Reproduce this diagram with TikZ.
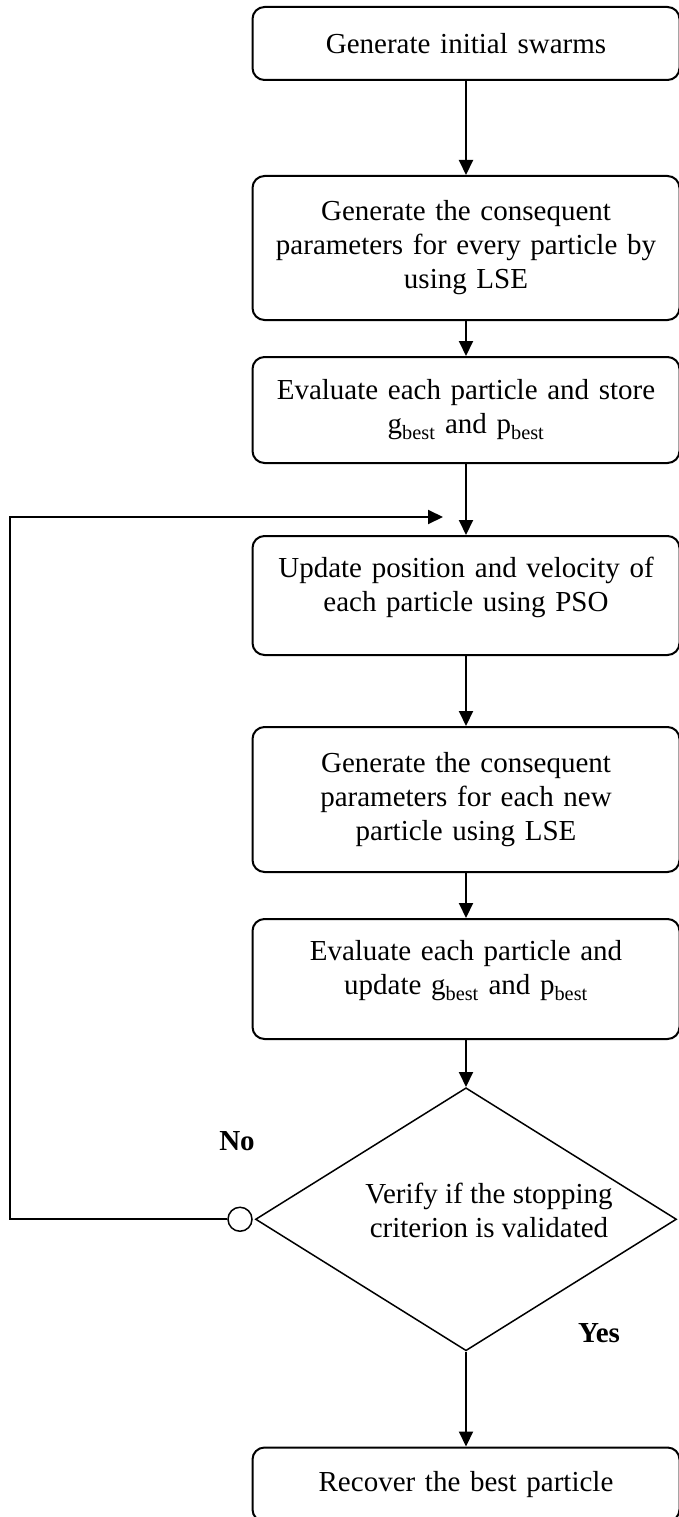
\documentclass[tikz,border=0pt]{standalone}
\usepackage{fontspec}
\setmainfont{Liberation Serif}
\usetikzlibrary{positioning,shapes.geometric,arrows.meta}
\newcommand{\chartfont}{\fontsize{29}{34}\selectfont}

\begin{document}
\begin{tikzpicture}[node distance={40pt}, line width=2pt, font=\chartfont,
  stepbox/.style = {draw, rectangle, rounded corners=12pt, minimum width=427pt, text width=405pt, align=center, inner sep=0pt},
  check/.style = {draw, diamond, aspect=1.6, line width=1.5pt, minimum width=421pt, minimum height=263pt, inner sep=0pt},
  checktext/.style = {align=center, xshift=23pt, yshift=9pt},
  joint/.style = {draw, circle, line width=1.5pt, minimum size=24pt, inner sep=0pt},
  flow/.style = {-{Triangle[length=15pt,width=14pt]}},
  lbl/.style = {font=\chartfont\bfseries, inner sep=0pt}]
\useasboundingbox (0,0) rectangle (679pt,-1517pt);
\node[stepbox, minimum height=73pt] (init) at (466pt,-43.5pt) {Generate initial swarms};
\node[stepbox, minimum height=144pt] (lse1) [below=94pt of init] {Generate the consequent\\parameters for every particle by\\using LSE};
\node[stepbox, minimum height=106pt] (eval1) [below=35pt of lse1] {Evaluate each particle and store\\g\textsubscript{best} and p\textsubscript{best}};
\node[stepbox, minimum height=119pt, text depth=57pt] (pso) [below=71pt of eval1] {Update position and velocity of\\each particle using PSO};
\node[stepbox, minimum height=145pt] (lse2) [below=70pt of pso] {Generate the consequent\\parameters for each new\\particle using LSE};
\node[stepbox, minimum height=120pt, text depth=57pt] (eval2) [below=45pt of lse2] {Evaluate each particle and\\update g\textsubscript{best} and p\textsubscript{best}};
\node[check, label={[checktext]center:{Verify if the stopping\\criterion is validated}}] (stop) [below=47pt of eval2] {};
\node[stepbox, minimum height=74pt] (best) [below=95pt of stop] {Recover the best particle};
\node[joint] (back) [left=2pt of stop] {};
\node[lbl] (no) [above=55pt of back, xshift=-3pt] {No};
\node[lbl] (yes) at ([shift={(133pt,18pt)}]stop.south) {Yes};
\coordinate (loopend) at ([shift={(-23pt,18pt)}]pso.north);
% main flow
\draw[flow] (init) -- (lse1);
\draw[flow] (lse1) -- (eval1);
\draw[flow] (eval1) -- (pso);
\draw[flow] (pso) -- (lse2);
\draw[flow] (lse2) -- (eval2);
\draw[flow] (eval2) -- (stop);
\draw[flow] (stop) -- (best);
% loop back
\draw[flow] (back.west) -- ++(-217pt,0) |- (loopend);
\end{tikzpicture}
\end{document}
